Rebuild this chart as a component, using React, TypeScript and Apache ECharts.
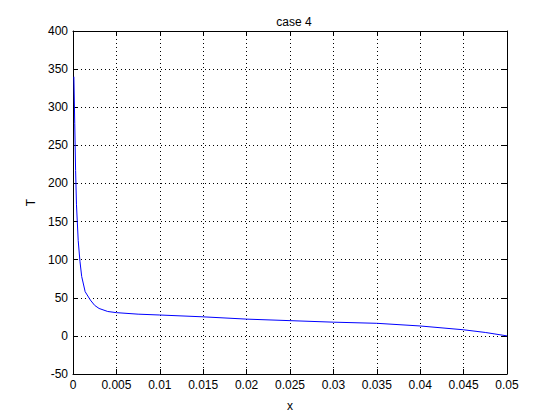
import React, { useEffect, useRef } from "react";
import * as echarts from "echarts";

const xValues = [0.0001, 0.0002, 0.0003, 0.0004, 0.0006, 0.0008, 0.001, 0.0014, 0.002, 0.0025, 0.003, 0.004, 0.005, 0.0075, 0.01, 0.015, 0.02, 0.025, 0.03, 0.035, 0.04, 0.045, 0.0475, 0.05];
const tValues = [340, 279, 217, 172, 125, 98, 78, 58, 47, 40, 36, 32, 30.5, 28.5, 27.4, 25, 22, 20, 18, 16.5, 13, 8, 4.5, 0];
const xTicks = [0, 0.005, 0.01, 0.015, 0.02, 0.025, 0.03, 0.035, 0.04, 0.045, 0.05];
const yTicks = [-50, 0, 50, 100, 150, 200, 250, 300, 350, 400];

const FONT = "Liberation Sans";

export default function App() {
  const ref = useRef<HTMLDivElement>(null);
  useEffect(() => {
    if (!ref.current) return;
    const chart = echarts.init(ref.current, null, { renderer: "svg" });
    const fmtX = (v: number) => String(parseFloat(v.toFixed(4)));
    const grid = { left: 73, right: 53, top: 31, bottom: 46 };
    const axisLine = { show: true, onZero: false, lineStyle: { color: "#000", width: 1 } };
    const axisTick = { show: true, inside: true, length: 5, lineStyle: { color: "#000" } };
    const splitLine = { show: true, lineStyle: { color: "#000", type: [1, 3] as any, width: 1 } };
    const labelStyle = { fontFamily: FONT, fontSize: 12, color: "#000" };
    chart.setOption({
      animation: false,
      backgroundColor: "#fff",
      title: {
        text: "case 4",
        left: 289,
        top: 11,
        textAlign: "center",
        textStyle: { fontFamily: FONT, fontSize: 12, fontWeight: "normal", color: "#000" },
      },
      grid,
      xAxis: [
        {
          type: "value",
          min: xTicks[0],
          max: xTicks[xTicks.length - 1],
          interval: 0.005,
          position: "bottom",
          name: "x",
          nameLocation: "middle",
          nameGap: 26,
          nameTextStyle: labelStyle,
          axisLine,
          axisTick,
          splitLine,
          axisLabel: { ...labelStyle, margin: 5, formatter: fmtX },
        },
        {
          type: "value",
          min: xTicks[0],
          max: xTicks[xTicks.length - 1],
          interval: 0.005,
          position: "top",
          axisLine,
          axisTick,
          splitLine: { show: false },
          axisLabel: { show: false },
        },
      ],
      yAxis: [
        {
          type: "value",
          min: yTicks[0],
          max: yTicks[yTicks.length - 1],
          interval: 50,
          position: "left",
          name: "T",
          nameLocation: "middle",
          nameGap: 31,
          nameRotate: 90,
          nameTextStyle: labelStyle,
          axisLine,
          axisTick,
          splitLine,
          axisLabel: { ...labelStyle, margin: 5 },
        },
        {
          type: "value",
          min: yTicks[0],
          max: yTicks[yTicks.length - 1],
          interval: 50,
          position: "right",
          axisLine,
          axisTick,
          splitLine: { show: false },
          axisLabel: { show: false },
        },
      ],
      series: [
        {
          type: "line",
          data: xValues.map((x, i) => [x, tValues[i]]),
          showSymbol: false,
          symbol: "none",
          lineStyle: { color: "#0000ff", width: 1 },
          xAxisIndex: 0,
          yAxisIndex: 0,
        },
      ],
    });
    return () => chart.dispose();
  }, []);
  return <div ref={ref} style={{ width: 560, height: 420, position: "absolute", left: 0, top: 0 }} />;
}
